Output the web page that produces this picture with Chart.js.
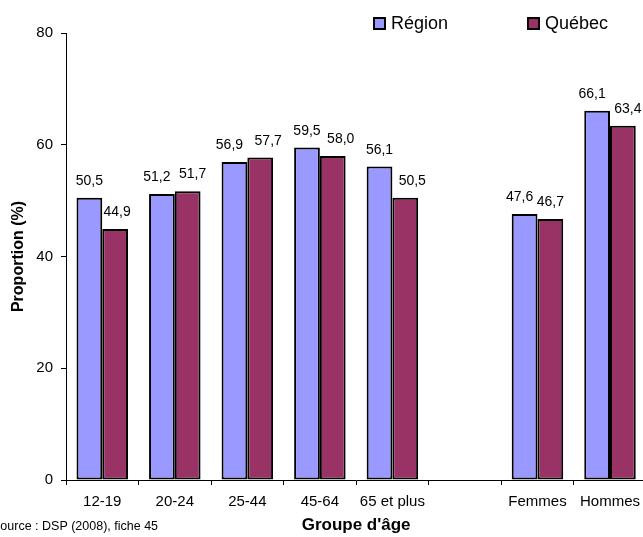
<!DOCTYPE html>
<html>
<head>
<meta charset="utf-8">
<script src="https://cdn.jsdelivr.net/npm/chart.js@4/dist/chart.umd.min.js"></script>
<style>
  html, body { margin: 0; padding: 0; background: #fff; overflow: hidden; }
  #c { display: block; }
</style>
</head>
<body>
<canvas id="c" width="648" height="537"></canvas>
<script>
// categories (the blank one makes the gap before Femmes/Hommes)
var categories = ["12-19", "20-24", "25-44", "45-64", "65 et plus", "", "Femmes", "Hommes"];
var regionValues = [50.5, 51.2, 56.9, 59.5, 56.1, null, 47.6, 66.1];
var quebecValues = [44.9, 51.7, 57.7, 58.0, 50.5, null, 46.7, 63.4];
var yTicks = [0, 20, 40, 60, 80];

var FONT = "'Liberation Sans', Arial, sans-serif";
Chart.defaults.font.family = FONT;
Chart.defaults.color = "#000";

// small sideways nudges of the value labels, as in the original (px)
var labelNudge = [
  [0, -5, -5, 0, 0, 0, -5, -5],
  [2, 5, 8, 8, 7, 0, 0, 5]
];

// values above the bars, with a comma for the decimal
var valueLabels = {
  id: "valueLabels",
  afterDatasetsDraw: function(chart) {
    var ctx = chart.ctx;
    ctx.save();
    ctx.font = "14px " + FONT;
    ctx.fillStyle = "#000";
    ctx.textAlign = "center";
    ctx.textBaseline = "alphabetic";
    chart.data.datasets.forEach(function(ds, i) {
      var meta = chart.getDatasetMeta(i);
      meta.data.forEach(function(bar, j) {
        var v = ds.data[j];
        if (v === null) return;
        ctx.fillText(v.toFixed(1).replace(".", ","), bar.x + labelNudge[i][j], bar.y - 13);
      });
    });
    ctx.restore();
  }
};

// legend top right + source note bottom left
var extras = {
  id: "extras",
  afterDraw: function(chart) {
    var ctx = chart.ctx;
    ctx.save();
    var items = [
      { x: 374, text: "Région", color: "#9999FF" },
      { x: 528, text: "Québec", color: "#993366" }
    ];
    items.forEach(function(it) {
      ctx.fillStyle = it.color;
      ctx.fillRect(it.x, 18, 11, 11);
      ctx.lineWidth = 2;
      ctx.strokeStyle = "#000";
      ctx.strokeRect(it.x, 18, 11, 11);
      ctx.fillStyle = "#000";
      ctx.font = "18px " + FONT;
      ctx.textBaseline = "middle";
      ctx.textAlign = "left";
      ctx.fillText(it.text, it.x + 17, 24);
    });
    ctx.font = "12.5px " + FONT;
    ctx.textBaseline = "middle";
    ctx.fillText("Source : DSP (2008), fiche 45", -8, 527);
    ctx.restore();
  }
};

new Chart(document.getElementById("c"), {
  type: "bar",
  data: {
    labels: categories,
    datasets: [
      {
        label: "Région",
        data: regionValues,
        backgroundColor: "#9999FF",
        borderColor: "#000",
        borderWidth: 2,
        borderSkipped: false
      },
      {
        label: "Québec",
        data: quebecValues,
        backgroundColor: "#993366",
        borderColor: "#000",
        borderWidth: 2,
        borderSkipped: false
      }
    ]
  },
  options: {
    responsive: false,
    animation: false,
    datasets: { bar: { barPercentage: 1, categoryPercentage: 0.71 } },
    layout: { padding: { top: 33, left: 0, right: 0, bottom: 0 } },
    plugins: {
      legend: { display: false },
      tooltip: { enabled: false }
    },
    scales: {
      x: {
        grid: { display: true, drawOnChartArea: false, drawTicks: true, tickLength: 5, color: "#000", offset: true },
        border: { display: true, color: "#000", width: 1 },
        ticks: { font: { size: 15 }, padding: 8, maxRotation: 0, autoSkip: false },
        title: { display: true, text: "Groupe d'âge", font: { size: 17, weight: "bold" }, padding: { top: 0, bottom: 1 } },
        afterFit: function(s) { s.height = 57; }
      },
      y: {
        min: 0,
        max: 80,
        afterBuildTicks: function(s) { s.ticks = yTicks.map(function(v) { return { value: v }; }); },
        grid: { display: true, drawOnChartArea: false, drawTicks: true, tickLength: 5, color: "#000" },
        border: { display: true, color: "#000", width: 1 },
        ticks: { font: { size: 15 }, padding: 8 },
        title: { display: true, text: "Proportion (%)", font: { size: 16, weight: "bold" }, padding: { top: 9, bottom: 0 } },
        afterFit: function(s) { s.width = 66; }
      }
    }
  },
  plugins: [valueLabels, extras]
});
</script>
</body>
</html>
